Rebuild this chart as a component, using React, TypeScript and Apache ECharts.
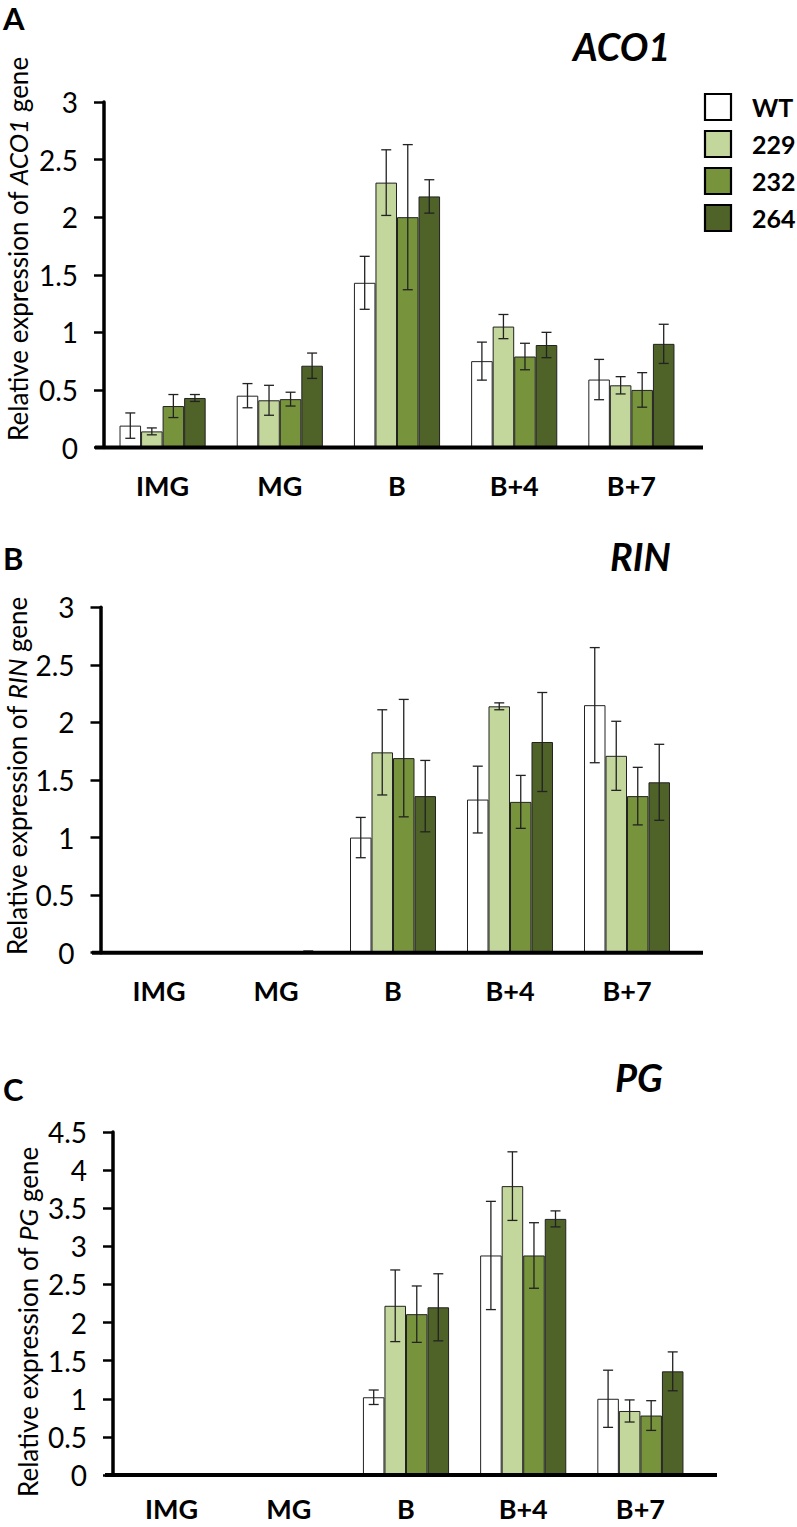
import React, { useEffect, useRef } from "react";
import * as echarts from "echarts";

const categories = ["IMG", "MG", "B", "B+4", "B+7"];
const lines = ["WT", "229", "232", "264"];
const lineColors = ["#ffffff", "#c3d69b", "#77933c", "#4f6228"];

// ACO1 (rows: WT, 229, 232, 264)
const aco1Means = [
  [0.19, 0.45, 1.43, 0.75, 0.59],
  [0.14, 0.41, 2.3, 1.05, 0.54],
  [0.36, 0.42, 2.0, 0.79, 0.5],
  [0.43, 0.71, 2.18, 0.89, 0.9],
];
const aco1Errors = [
  [0.11, 0.105, 0.23, 0.165, 0.175],
  [0.03, 0.13, 0.285, 0.105, 0.075],
  [0.1, 0.06, 0.63, 0.115, 0.15],
  [0.03, 0.11, 0.145, 0.11, 0.17],
];

// RIN
const rinMeans = [
  [0, 0, 1.0, 1.33, 2.15],
  [0, 0, 1.74, 2.14, 1.71],
  [0, 0, 1.69, 1.31, 1.36],
  [0, 0.01, 1.36, 1.83, 1.48],
];
const rinErrors = [
  [0, 0, 0.175, 0.29, 0.5],
  [0, 0, 0.37, 0.03, 0.3],
  [0, 0, 0.51, 0.23, 0.25],
  [0, 0.005, 0.31, 0.43, 0.33],
];

// PG
const pgMeans = [
  [0, 0, 1.02, 2.88, 1.0],
  [0, 0, 2.22, 3.79, 0.84],
  [0, 0, 2.11, 2.88, 0.78],
  [0, 0, 2.2, 3.36, 1.36],
];
const pgErrors = [
  [0, 0, 0.095, 0.71, 0.375],
  [0, 0, 0.47, 0.45, 0.145],
  [0, 0, 0.37, 0.43, 0.195],
  [0, 0, 0.44, 0.105, 0.255],
];

const yMaxes = [3, 3, 4.5];
const genes = ["ACO1", "RIN", "PG"];
const panelLetters = ["A", "B", "C"];

const FONT = "Lato, 'Open Sans', sans-serif";
const GAP = 0.265;

const panels = [
  { means: aco1Means, errors: aco1Errors, left: 104, top: 102, width: 586, height: 345.5, axisL: 95, axisR: 703,
    labelMargin: 26, letterY: 18, titleX: 573, titleY: 46, nameX: 18, nameY: 249 },
  { means: rinMeans, errors: rinErrors, left: 100.5, top: 607.3, width: 585, height: 345.4, axisL: 92, axisR: 703,
    labelMargin: 26, letterY: 558, titleX: 610, titleY: 556, nameX: 17, nameY: 776 },
  { means: pgMeans, errors: pgErrors, left: 113, top: 1132, width: 586, height: 343, axisL: 105, axisR: 717,
    labelMargin: 21, letterY: 1089, titleX: 615, titleY: 1077, nameX: 28, nameY: 1322 },
];

export default function App() {
  const ref = useRef<HTMLDivElement>(null);
  useEffect(() => {
    const chart = echarts.init(ref.current!, null, { renderer: "svg" });

    const grid: any[] = [];
    const xAxis: any[] = [];
    const yAxis: any[] = [];
    const series: any[] = [];
    const graphic: any[] = [];

    panels.forEach((p, gi) => {
      grid.push({ left: p.left, top: p.top, width: p.width, height: p.height, containLabel: false });
      xAxis.push({
        type: "category",
        gridIndex: gi,
        data: categories,
        axisLine: { show: false },
        axisTick: { show: false },
        axisLabel: { color: "#000", fontFamily: FONT, fontWeight: "bold", fontSize: 27, lineHeight: 24, margin: p.labelMargin },
      });
      yAxis.push({
        type: "value",
        gridIndex: gi,
        min: 0,
        max: yMaxes[gi],
        interval: 0.5,
        splitLine: { show: false },
        axisLine: { show: true, lineStyle: { color: "#000", width: 3.5 } },
        axisTick: { show: true, inside: false, length: 10, lineStyle: { color: "#000", width: 2.5 } },
        axisLabel: { color: "#000", fontFamily: FONT, fontSize: 28, margin: 26 },
      });
      lines.forEach((name, si) => {
        series.push({
          type: "bar",
          name,
          xAxisIndex: gi,
          yAxisIndex: gi,
          data: p.means[si],
          barGap: "0%",
          barCategoryGap: GAP * 100 + "%",
          itemStyle: { color: lineColors[si], borderColor: "#222", borderWidth: 1 },
          z: 2,
        });
      });
      lines.forEach((name, si) => {
        series.push({
          type: "custom",
          name: name + " error",
          xAxisIndex: gi,
          yAxisIndex: gi,
          z: 5,
          data: p.means[si].map((m, ci) => [ci, m, p.errors[si][ci]]),
          renderItem: (params: any, api: any) => {
            const ci = api.value(0);
            const v = api.value(1);
            const e = api.value(2);
            if (!e) return null;
            const band = api.size([1, 0])[0];
            const bw = (band * (1 - GAP)) / 4;
            const c = api.coord([ci, v]);
            const x = c[0] + (si - 1.5) * bw;
            const yt = api.coord([ci, v + e])[1];
            const yb = api.coord([ci, Math.max(0, v - e)])[1];
            const cap = 5;
            const st = { stroke: "#222", lineWidth: 1.3 };
            return {
              type: "group",
              children: [
                { type: "line", shape: { x1: x, y1: yt, x2: x, y2: yb }, style: st },
                { type: "line", shape: { x1: x - cap, y1: yt, x2: x + cap, y2: yt }, style: st },
                { type: "line", shape: { x1: x - cap, y1: yb, x2: x + cap, y2: yb }, style: st },
              ],
            };
          },
        });
      });

      const axisY = p.top + p.height;
      graphic.push({
        type: "line",
        shape: { x1: p.axisL, y1: axisY, x2: p.axisR, y2: axisY },
        style: { stroke: "#000", lineWidth: 4 },
        z: 10,
      });
      graphic.push({
        type: "text",
        x: 3,
        y: p.letterY,
        style: { text: panelLetters[gi], fontFamily: FONT, fontWeight: "bold", fontSize: 31, fill: "#000", verticalAlign: "middle" },
      });
      graphic.push({
        type: "text",
        x: p.titleX,
        y: p.titleY,
        style: { text: genes[gi], fontFamily: FONT, fontWeight: "bold", fontStyle: "italic", fontSize: 38, fill: "#000", verticalAlign: "middle" },
      });
      graphic.push({
        type: "text",
        x: p.nameX,
        y: p.nameY,
        rotation: Math.PI / 2,
        style: {
          text: "Relative expression of {i|" + genes[gi] + "} gene",
          fontFamily: FONT,
          fontSize: 26,
          fill: "#000",
          align: "center",
          verticalAlign: "middle",
          rich: { i: { fontFamily: FONT, fontSize: 26, fontStyle: "italic", fill: "#000" } },
        },
      });
    });

    // legend
    lines.forEach((name, si) => {
      const y = 94 + si * 37;
      graphic.push({
        type: "rect",
        shape: { x: 705, y, width: 26, height: 26 },
        style: { fill: lineColors[si], stroke: "#000", lineWidth: 2.2 },
      });
      graphic.push({
        type: "text",
        x: 752,
        y: y + 13,
        style: { text: name, fontFamily: FONT, fontWeight: "bold", fontSize: 25, fill: "#000", verticalAlign: "middle" },
      });
    });

    chart.setOption({
      animation: false,
      backgroundColor: "#fff",
      grid,
      xAxis,
      yAxis,
      series,
      graphic,
    });
    return () => chart.dispose();
  }, []);
  return <div ref={ref} style={{ position: "absolute", left: 0, top: 0, width: 797, height: 1527 }} />;
}
